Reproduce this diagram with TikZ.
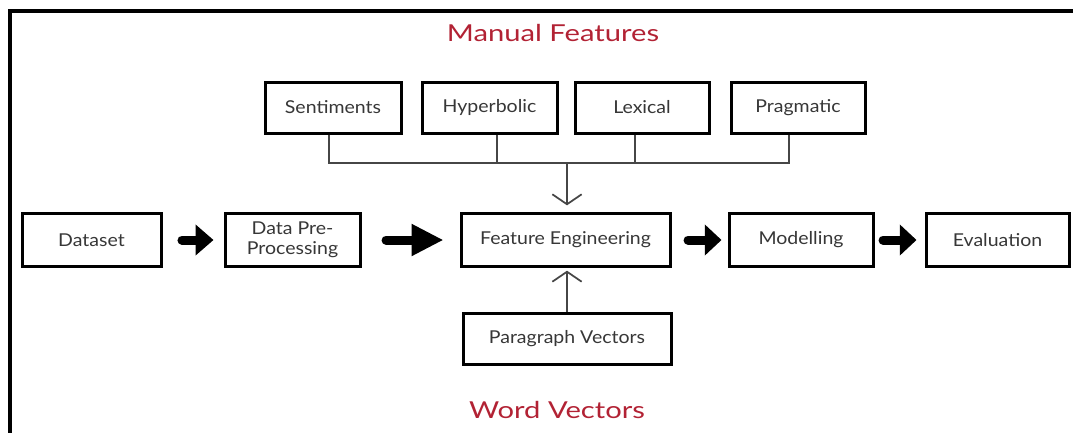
\documentclass[tikz,border=0pt]{standalone}
\usepackage{fontspec}
\setmainfont{Lato}
\newfontfamily\boxfont[FakeStretch=1.1]{Lato}
\newfontfamily\titlefont[FakeStretch=1.25]{Lato}
\usetikzlibrary{arrows.meta,calc}
\definecolor{titlered}{RGB}{178,34,52}
\definecolor{boxtext}{RGB}{55,55,55}
\definecolor{conncol}{RGB}{70,70,70}
\tikzset{
  box/.style={draw=black, line width=2.25pt, fill=white, inner sep=1pt,
    minimum height=39.75pt, align=center, text=boxtext,
    font=\boxfont\fontsize{13.3}{15}\selectfont},
  topbox/.style={box, minimum height=38.25pt},
  title/.style={text=titlered, font=\titlefont\fontsize{17.5}{20}\selectfont},
  conn/.style={draw=conncol, line width=1.6pt},
  thinarrow/.style={draw=conncol, line width=1.3pt,
    -{Straight Barb[length=7.5pt, width=22pt, line width=1.3pt]}},
  fatarrow/.style={draw=black, line width=6.75pt, line cap=round},
}
\begin{document}
\begin{tikzpicture}[x=0.75pt, y=-0.75pt]
\useasboundingbox (0,0) rectangle (1073,432);
% frame
\draw[line width=3pt] (1080,11) -- (10,11) -- (10,440);
% titles
\node[title] (tm) at (553,33) {Manual Features};
\node[title] (tw) at (557,410) {Word Vectors};
% main row
\node[box, minimum width=104.25pt] (ds) at (91.5,240) {Dataset};
\node[box, minimum width=101.25pt] (pp) at (292.5,240) {Data Pre-\\Processing};
\node[box, minimum width=156.75pt] (fe) at (565.5,240) {Feature Engineering};
\node[box, minimum width=108pt] (mo) at (801,240) {Modelling};
\node[box, minimum width=107.25pt] (ev) at (997.5,240) {Evaluation};
\node[box, minimum width=156pt, minimum height=38.25pt] (pv) at (567,338.5) {Paragraph Vectors};
% top row
\node[topbox, minimum width=102pt] (s1) at (333,107.5) {Sentiments};
\node[topbox, minimum width=101.25pt] (s2) at (489.5,107.5) {Hyperbolic};
\node[topbox, minimum width=100.5pt] (s3) at (642,107.5) {Lexical};
\node[topbox, minimum width=100.5pt] (s4) at (798,107.5) {Pragmatic};
% bus
\coordinate (bl) at (329,163);
\coordinate (br) at (789,163);
\coordinate (bm) at (567,163);
\draw[conn] (s1.south -| bl) -- (bl) -- (br) -- (s4.south -| br);
\draw[conn] ([xshift=5.6pt]s2.south) |- (bm);
\draw[conn] ([xshift=-5.25pt]s3.south) |- (bm);
\draw[thinarrow, shorten >=5pt] (bm) -- (bm |- fe.north);
\draw[thinarrow, shorten >=2pt] (pv.north) -- (pv.north |- fe.south);
% fat arrows
\draw[fatarrow, -{Triangle[length=13.5pt, width=22.5pt]}, shorten <=14.6pt, shorten >=7.5pt] (ds.east) -- (pp.west);
\draw[fatarrow, -{Triangle[length=24pt, width=22.5pt]}, shorten <=18.4pt, shorten >=12pt] (pp.east) -- (fe.west);
\draw[fatarrow, -{Triangle[length=12.5pt, width=22.5pt]}, shorten <=12.4pt, shorten >=4.5pt] (fe.east) -- (mo.west);
\draw[fatarrow, -{Triangle[length=12.5pt, width=22.5pt]}, shorten <=6.4pt, shorten >=6pt] (mo.east) -- (ev.west);
\end{tikzpicture}
\end{document}
